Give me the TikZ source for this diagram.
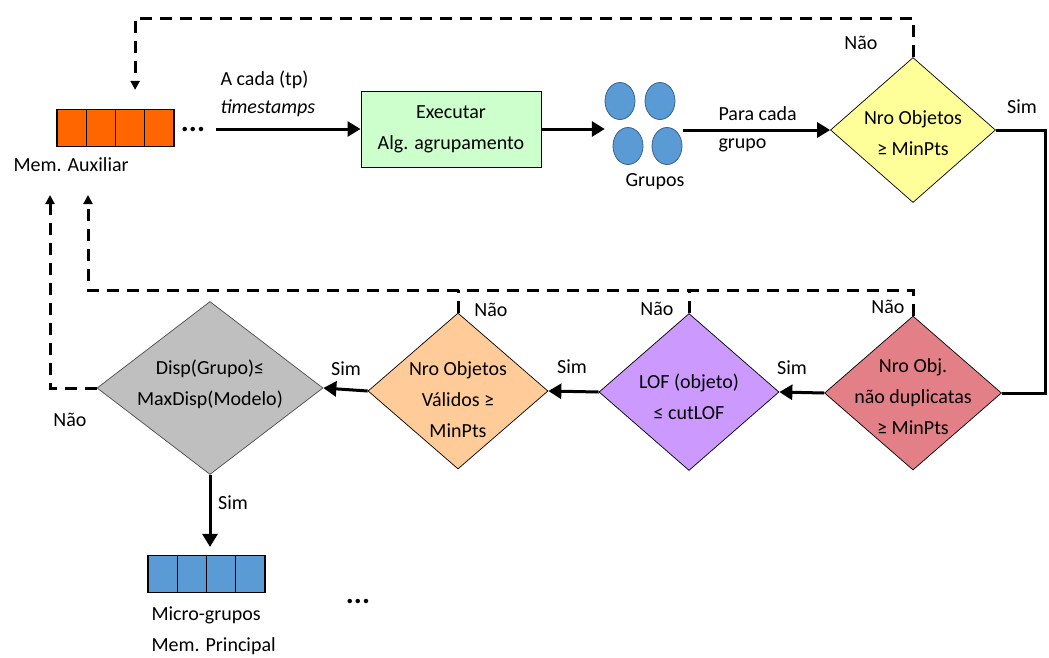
\documentclass[tikz,border=0pt]{standalone}
\definecolor{auxorange}{RGB}{255,102,0}
\definecolor{execgreen}{RGB}{204,255,204}
\definecolor{grpblue}{RGB}{91,155,213}
\definecolor{grpedge}{RGB}{55,96,146}
\definecolor{chkyellow}{RGB}{255,255,153}
\definecolor{duprose}{RGB}{227,127,134}
\definecolor{lofviolet}{RGB}{204,153,255}
\definecolor{validpeach}{RGB}{255,204,153}
\definecolor{dispgray}{RGB}{191,191,191}
\usepackage{fontspec}
\setmainfont{Carlito}
\usepackage{tikz}
\usetikzlibrary{arrows.meta, shapes.geometric, positioning, calc}

\begin{document}
\begin{tikzpicture}[
    x=1pt, y=-1pt,
    font=\fontsize{20}{31}\selectfont,
    cell/.style={draw, line width=1.2pt, minimum width=29.25pt,
                 minimum height=37pt, inner sep=0pt},
    procbox/.style={draw, fill=execgreen, line width=1pt, minimum width=180pt,
                    minimum height=76pt, align=center},
    grpdot/.style={ellipse, draw=grpedge, fill=grpblue, line width=0.8pt,
                   minimum width=30pt, minimum height=37pt, inner sep=0pt},
    decision/.style={diamond, draw, line width=0.7pt, inner sep=0pt},
    dtext/.style={align=center},
    dots/.style={font=\fontsize{30}{30}\selectfont\bfseries, inner sep=1pt},
    flow/.style={line width=3pt, -{Triangle[length=13pt, width=15pt]}},
    flowline/.style={line width=3pt},
    back/.style={line width=3pt, dash pattern=on 12pt off 8pt,
                 -{Triangle[length=9pt, width=9pt]}},
    backline/.style={line width=3pt, dash pattern=on 12pt off 8pt}
  ]
  \useasboundingbox (0,0) rectangle (1049,657);

  \foreach \k in {1,...,4}
    \node[cell, fill=auxorange] (aux\k) at ({57+29.25*(\k-0.5)},128) {};
  \node[dots] (auxdots) at (193,129) {...};
  \node[anchor=west] (auxlbl) at (10,165) {Mem. Auxiliar};

  \node[procbox] (exec) at (451,129) {Executar\\Alg. agrupamento};
  \node[anchor=west] (tplbl) at (217,80) {A cada (tp)};
  \node[anchor=west] (tslbl) at (217,108) {\textit{timestamps}};

  \node[minimum width=78pt, minimum height=86pt, inner sep=0pt] (grupos) at (644,124) {};
  \foreach \cx/\cy [count=\k] in {620/101, 660/101, 628/146, 667/146}
    \node[grpdot] (grp\k) at (\cx,\cy) {};
  \node (gruposlbl) at (655,182) {Grupos};
  \node[anchor=west] (paralbl) at (715,114) {Para cada};
  \node[anchor=west] (grupolbl) at (715,145) {grupo};

  \node[decision, fill=chkyellow, minimum width=165pt, minimum height=145pt,
        label={[dtext, yshift=-3pt]center:Nro Objetos\\≥ MinPts}] (chkobj) at (913,130) {};
  \node[decision, fill=duprose, minimum width=177pt, minimum height=154pt,
        label={[dtext, yshift=-4pt]center:Nro Obj.\\não duplicatas\\≥ MinPts}] (dupobj) at (913,393) {};
  \node[decision, fill=lofviolet, minimum width=180pt, minimum height=157pt,
        label={[dtext, yshift=-5pt]center:LOF (objeto)\\≤ cutLOF}] (lofobj) at (689,392) {};
  \node[decision, fill=validpeach, minimum width=180pt, minimum height=156pt,
        label={[dtext, yshift=-9pt]center:Nro Objetos\\Válidos ≥\\MinPts}] (validobj) at (458,391) {};
  \node[decision, fill=dispgray, draw=black!70, minimum width=226pt, minimum height=173pt,
        label={[dtext, yshift=4pt]center:Disp(Grupo)≤\\MaxDisp(Modelo)}] (dispobj) at (210,388) {};

  \foreach \k in {1,...,4}
    \node[cell, fill=grpblue] (main\k) at ({148+29.25*(\k-0.5)},574) {};
  \node[anchor=north west, align=left] (mainlbl) at (148,603) {Micro-grupos\\Mem. Principal};
  \node[dots] (maindots) at (358,601) {...};

  \node (simchk) at (1022,107) {Sim};
  \node (simdup) at (792,368) {Sim};
  \node (simlof) at (572,367) {Sim};
  \node (simvalid) at (346,369) {Sim};
  \node (simdisp) at (233,503) {Sim};
  \node (naochk) at (861,43) {Não};
  \node (naodup) at (888,307) {Não};
  \node (naolof) at (657,309) {Não};
  \node (naovalid) at (491,310) {Não};
  \node (naodisp) at (70,420) {Não};

  \coordinate (retrow) at (0,290);
  \coordinate (retA) at (88,195);
  \coordinate (retB) at (50,195);

  \draw[flow] (exec.west -| 216,0) -- (exec.west);
  \draw[flow] (exec.east) -- (exec.east -| grupos.west);
  \draw[flow] (chkobj.west -| grupos.east) -- (chkobj.west);
  \draw[flowline] (chkobj.east) -- ++(50,0) |- (dupobj.east);
  \draw[flow] (dupobj.west) -- (lofobj.east);
  \draw[flow] (lofobj.west) -- (validobj.east);
  \draw[flow] (validobj.west) -- (dispobj.east);
  \draw[flow, shorten >=8pt] (dispobj.south) -- (dispobj.south |- main2.north);

  \draw[back, shorten >=19pt] (chkobj.north) -- ++(0,-39) -| ([xshift=5pt]aux3.north);
  \draw[back] (dupobj.north) |- (retrow -| retA) -- (retA);
  \draw[backline] (lofobj.north) -- (lofobj.north |- retrow);
  \draw[backline] (validobj.north) -- (validobj.north |- retrow);
  \draw[back] (dispobj.west) -| (retB);
\end{tikzpicture}
\end{document}
